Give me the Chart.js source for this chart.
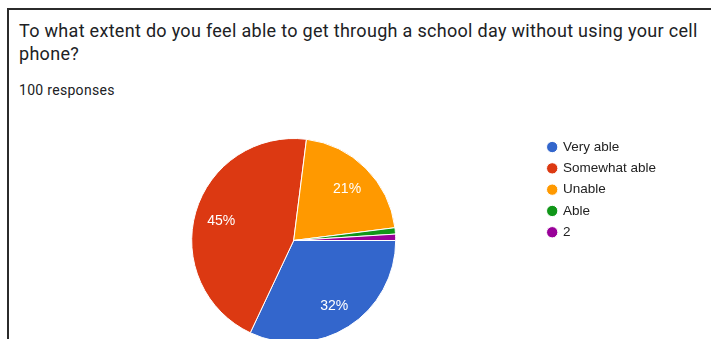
<!DOCTYPE html>
<html>
<head>
<meta charset="utf-8">
<script src="https://cdn.jsdelivr.net/npm/chart.js@4"></script>
<style>
  html, body { margin: 0; padding: 0; background: #fff; overflow: hidden; }
  body { width: 711px; height: 339px; position: relative; }
  .frame {
    position: absolute; left: 7px; top: 8px; width: 720px; height: 360px;
    border-top: 2px solid #2b2b2b; border-left: 2px solid #2b2b2b;
  }
  .titulo {
    position: absolute; left: 19px; top: 19px; width: 690px;
    font-family: Roboto, sans-serif; font-size: 18px; letter-spacing: 0.3px;
    line-height: 23px; color: #202124;
  }
  .respuestas {
    position: absolute; left: 19px; top: 82px;
    font-family: Roboto, sans-serif; font-size: 14px; letter-spacing: 0.3px;
    line-height: 16px; color: #202124;
  }
  #grafico { position: absolute; left: 0; top: 110px; }
</style>
</head>
<body>
<div class="frame"></div>
<div class="titulo">To what extent do you feel able to get through a school day without using your cell phone?</div>
<div class="respuestas">100 responses</div>
<canvas id="grafico" width="711" height="260"></canvas>

<script>
const categorias = ['Very able', 'Somewhat able', 'Unable', 'Able', '2'];
const respuestas = [32, 45, 21, 1, 1];
const colores = ['#3366cc', '#dc3912', '#ff9900', '#109618', '#990099'];

// porcentajes blancos dentro de cada porción, como en Google Forms
const etiquetasPorcentaje = {
    id: 'etiquetasPorcentaje',
    afterDatasetsDraw(chart) {
        const ctx = chart.ctx;
        const meta = chart.getDatasetMeta(0);
        const datos = chart.data.datasets[0].data;
        const total = datos.reduce((a, b) => a + b, 0);
        ctx.save();
        ctx.fillStyle = '#ffffff';
        ctx.font = '14px Arial, "Liberation Sans", sans-serif';
        ctx.textAlign = 'center';
        ctx.textBaseline = 'middle';
        meta.data.forEach((arc, i) => {
            const pct = datos[i] / total * 100;
            if (pct < 5) return;
            const p = arc.getProps(['x', 'y', 'startAngle', 'endAngle', 'outerRadius'], true);
            const medio = (p.startAngle + p.endAngle) / 2;
            const r = p.outerRadius * 0.74;
            ctx.fillText(Math.round(pct) + '%', p.x + Math.cos(medio) * r, p.y + Math.sin(medio) * r + 2);
        });
        ctx.restore();
    }
};

new Chart(document.getElementById('grafico'), {
    type: 'pie',
    data: {
        labels: categorias,
        datasets: [{
            data: respuestas,
            backgroundColor: colores,
            borderColor: '#ffffff',
            borderWidth: 1,
            radius: 102
        }]
    },
    options: {
        responsive: false,
        animation: false,
        rotation: 90,
        layout: { padding: { left: 47, right: 45, top: 22.5, bottom: 21.5 } },
        plugins: {
            tooltip: { enabled: false },
            legend: {
                position: 'right',
                align: 'start',
                labels: {
                    usePointStyle: true,
                    pointStyle: 'circle',
                    boxWidth: 8,
                    boxHeight: 8,
                    padding: 7.8,
                    color: '#222222',
                    font: { family: 'Arial, "Liberation Sans", sans-serif', size: 13.5 }
                }
            }
        }
    },
    plugins: [etiquetasPorcentaje]
});
</script>
</body>
</html>
